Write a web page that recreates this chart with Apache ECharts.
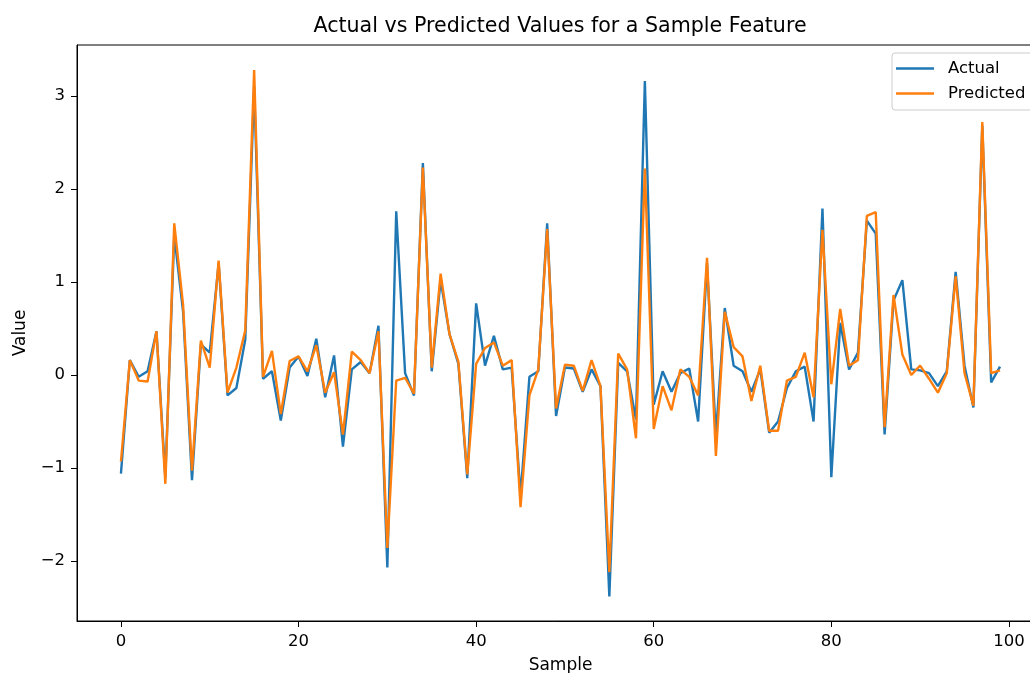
<!DOCTYPE html>
<html>
<head>
<meta charset="utf-8">
<title>Actual vs Predicted</title>
<script src="https://cdn.jsdelivr.net/npm/echarts@6/dist/echarts.min.js"></script>
<style>
  html, body { margin: 0; padding: 0; background: #fff; }
  #chart { width: 1030px; height: 673px; }
</style>
</head>
<body>
<div id="chart"></div>
<script>
// values, sample 0..99
var actual = [
  -1.06, 0.16, -0.02, 0.04, 0.47, -1.10, 1.50, 0.68, -1.13, 0.33,
  0.24, 1.20, -0.22, -0.14, 0.38, 3.10, -0.04, 0.04, -0.49, 0.08,
  0.20, -0.01, 0.39, -0.24, 0.21, -0.77, 0.06, 0.14, 0.02, 0.53,
  -2.07, 1.76, 0.02, -0.22, 2.28, 0.04, 1.02, 0.44, 0.12, -1.11,
  0.77, 0.10, 0.42, 0.06, 0.08, -1.30, -0.02, 0.04, 1.63, -0.44,
  0.08, 0.07, -0.18, 0.06, -0.12, -2.38, 0.13, 0.04, -0.48, 3.16,
  -0.32, 0.04, -0.18, 0.02, 0.07, -0.50, 1.20, -0.65, 0.72, 0.10,
  0.04, -0.18, 0.06, -0.62, -0.50, -0.14, 0.04, 0.09, -0.50, 1.79,
  -1.10, 0.56, 0.06, 0.24, 1.66, 1.52, -0.64, 0.80, 1.02, 0.06,
  0.05, 0.02, -0.12, 0.04, 1.11, 0.10, -0.35, 2.68, -0.08, 0.09
];
var predicted = [
  -0.93, 0.16, -0.06, -0.07, 0.47, -1.17, 1.63, 0.75, -1.03, 0.37,
  0.08, 1.23, -0.19, 0.08, 0.48, 3.28, -0.02, 0.26, -0.42, 0.15,
  0.20, 0.04, 0.32, -0.19, 0.03, -0.64, 0.25, 0.16, 0.02, 0.47,
  -1.86, -0.06, -0.03, -0.20, 2.23, 0.08, 1.09, 0.44, 0.14, -1.07,
  0.12, 0.29, 0.35, 0.10, 0.16, -1.42, -0.22, 0.06, 1.57, -0.36,
  0.11, 0.10, -0.17, 0.16, -0.12, -2.12, 0.23, 0.06, -0.68, 2.22,
  -0.58, -0.12, -0.38, 0.06, -0.02, -0.22, 1.26, -0.87, 0.68, 0.30,
  0.20, -0.28, 0.10, -0.60, -0.60, -0.06, -0.02, 0.24, -0.24, 1.56,
  -0.10, 0.71, 0.10, 0.16, 1.71, 1.75, -0.56, 0.86, 0.22, 0.00,
  0.10, -0.04, -0.19, 0.02, 1.06, 0.02, -0.33, 2.72, 0.02, 0.05
];
var xTicks = [0, 20, 40, 60, 80, 100];
var yTicks = [-2, -1, 0, 1, 2, 3];

function pairs(arr) {
  var out = [];
  for (var i = 0; i < arr.length; i++) {
    out.push([i, arr[i]]);
  }
  return out;
}

function minusFmt(v) {
  return v < 0 ? '\u2212' + Math.abs(v) : String(v);
}

var font = 'DejaVu Sans';
var txt = { fontFamily: font, fontSize: 16.5, color: '#000' };

var chart = echarts.init(document.getElementById('chart'));
chart.setOption({
  animation: false,
  textStyle: { fontFamily: font },
  title: {
    text: 'Actual vs Predicted Values for a Sample Feature',
    left: 560,
    top: 16,
    padding: 0,
    textAlign: 'center',
    textStyle: { fontFamily: font, fontSize: 20.6, fontWeight: 'normal', color: '#000' }
  },
  legend: {
    data: ['Actual', 'Predicted'],
    orient: 'vertical',
    left: 892,
    top: 53,
    padding: [7, 40, 8, 4],
    itemGap: 8,
    itemWidth: 38,
    itemHeight: 2.4,
    icon: 'rect',
    backgroundColor: '#fff',
    borderColor: '#cccccc',
    borderWidth: 1,
    borderRadius: 3,
    textStyle: { fontFamily: font, fontSize: 16.5, color: '#000', padding: [0, 0, 0, 9] }
  },
  grid: {
    left: 77,
    width: 967,
    top: 45,
    bottom: 52,
    outerBoundsMode: 'none',
    containLabel: false,
    show: true,
    borderColor: '#000',
    borderWidth: 1
  },
  xAxis: {
    type: 'value',
    min: -4.95,
    max: 103.95,
    name: 'Sample',
    nameLocation: 'middle',
    nameGap: 36,
    nameTextStyle: { fontFamily: font, fontSize: 17, color: '#000' },
    axisLine: { show: true, onZero: false, lineStyle: { color: '#000' } },
    axisTick: { show: true, length: 6, customValues: xTicks, lineStyle: { color: '#000' } },
    axisLabel: Object.assign({ customValues: xTicks, margin: 12 }, txt),
    splitLine: { show: false }
  },
  yAxis: {
    type: 'value',
    min: -2.645,
    max: 3.548,
    name: 'Value',
    nameLocation: 'middle',
    nameGap: 48,
    nameTextStyle: { fontFamily: font, fontSize: 17, color: '#000' },
    axisLine: { show: true, onZero: false, lineStyle: { color: '#000' } },
    axisTick: { show: true, length: 6, customValues: yTicks, lineStyle: { color: '#000' } },
    axisLabel: Object.assign({ customValues: yTicks, margin: 12, formatter: minusFmt }, txt),
    splitLine: { show: false }
  },
  series: [
    {
      name: 'Actual',
      type: 'line',
      data: pairs(actual),
      symbol: 'none',
      color: '#1f77b4',
      lineStyle: { width: 2.4, color: '#1f77b4' }
    },
    {
      name: 'Predicted',
      type: 'line',
      data: pairs(predicted),
      symbol: 'none',
      color: '#ff7f0e',
      lineStyle: { width: 2.4, color: '#ff7f0e' }
    }
  ]
});
</script>
</body>
</html>
